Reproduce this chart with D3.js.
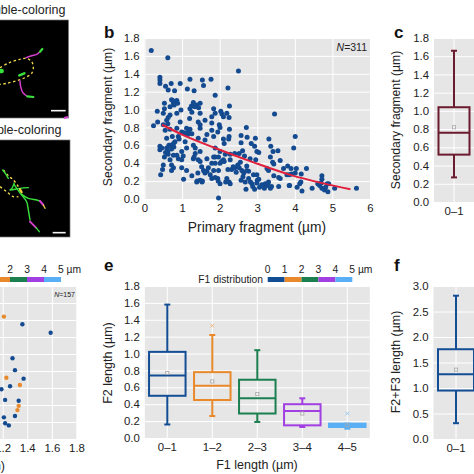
<!DOCTYPE html>
<html><head><meta charset="utf-8">
<script src="https://cdn.jsdelivr.net/npm/d3@7/dist/d3.min.js"></script>
<style>html,body{margin:0;padding:0;background:#fff;overflow:hidden}text{font-family:"Liberation Sans",Arial,sans-serif;fill:#222}</style>
</head><body><div id="c"></div>
<script>
const bX=[.41,.56,.71,.63,.80,.95,1.14,1.32,1.57,1.88,.53,.72,.86,.77,.83,.34,.50,.68,.53,.97,.86,.68,.63,.59,.95,.35,.24,.50,.55,1.21,1.30,1.39,1.48,1.26,1.48,1.20,1.84,1.88,1.79,1.43,1.61,1.48,1.79,1.48,1.79,.68,.86,.99,1.12,1.21,1.08,1.26,.59,.74,.81,.90,1.43,1.66,1.61,1.08,1.12,1.84,.41,.41,.59,.68,.77,.62,.53,.77,.86,.99,1.35,1.30,1.35,1.48,1.66,.68,.90,.99,1.30,1.43,1.48,1.84,.50,.48,.72,.77,.72,.43,.99,1.12,1.04,1.26,1.42,1.39,1.48,1.54,1.57,1.70,1.61,1.66,1.79,1.84,1.79,
2.22,2.26,2.03,2.06,2.19,2.10,2.25,3.46,1.99,2.01,2.26,2.71,1.95,2.25,2.24,2.10,2.12,2.57,2.73,2.57,2.84,2.95,2.93,3.31,3.36,3.55,3.42,1.88,2.01,2.15,2.28,2.40,2.52,2.61,2.99,3.04,2.66,2.81,2.96,3.35,3.61,1.88,1.97,2.10,2.28,2.01,1.88,1.97,2.22,2.32,2.40,2.48,2.55,2.72,3.41,3.44,3.81,3.70,3.26,3.30,1.88,1.95,2.01,2.19,2.25,2.28,2.59,2.72,2.77,2.64,2.57,2.68,2.77,2.86,2.70,2.90,2.99,3.04,2.99,3.06,2.93,3.21,3.30,3.26,3.19,3.35,3.44,3.57,3.61,3.79,3.85,3.57,3.85,1.97,
.18,.62,.41,.41,1.21,1.54,1.77,2.50,
4.01,3.97,3.90,4.04,4.31,4.01,4.17,3.91,3.86,4.16,4.13,4.06,4.19,4.46,4.72,4.72,4.61,4.66,4.72,4.79,4.86,4.90,4.88,5.06,5.64,
.75,.79,.88,1.25,1.34,1.44,1.17,1.05,1.15,.65,.72,.78,.46,.56,.63,1.32,1.40,1.53,1.60,1.75,2.12,2.36,2.44,2.52,2.82,2.88,3.00,3.12,3.28,3.38,4.70,4.82,.62,.92,1.03,1.52,1.96,2.05,2.16,2.62];
const bY=[1.29,1.26,1.29,1.22,1.21,1.29,1.23,1.21,1.27,1.16,1.07,1.11,1.10,1.07,1.09,.98,.96,1.03,1.01,.995,.96,.94,.91,.88,.86,.86,.82,.83,.77,1.01,1.08,1.05,1.07,.97,.96,.90,1.01,.96,.92,.86,.88,.83,.85,.79,.77,.78,.79,.75,.79,.78,.73,.73,.68,.70,.64,.70,.68,.72,.66,.64,.57,.70,.59,.55,.57,.60,.62,.53,.47,.49,.49,.53,.57,.60,.51,.53,.45,.44,.45,.44,.45,.44,.42,.47,.38,.33,.38,.35,.32,.27,.35,.32,.22,.26,.29,.19,.21,.20,.32,.35,.29,.31,.23,.32,.40,
1.24,1.04,.98,.95,.96,.92,.91,.95,.83,.80,.78,.80,.75,.70,.67,.67,.62,.71,.69,.63,.62,.68,.59,.67,.59,.54,.53,.57,.53,.50,.50,.51,.51,.54,.53,.52,.48,.45,.44,.47,.43,.47,.47,.44,.44,.40,.40,.32,.33,.33,.35,.38,.41,.37,.41,.39,.37,.34,.34,.32,.24,.23,.17,.23,.19,.17,.32,.32,.31,.29,.21,.19,.23,.17,.11,.27,.27,.22,.18,.13,.11,.17,.19,.15,.12,.12,.26,.24,.23,.27,.27,.14,.15,.01,
1.66,1.58,1.36,1.33,1.34,1.33,1.34,1.43,
.70,.57,.34,.34,.34,.29,.28,.28,.15,.19,.17,.13,.09,.12,.26,.22,.17,.15,.12,.10,.17,.17,.08,.12,.12,
1.10,1.05,1.07,1.04,1.03,1.02,.76,.74,.72,.60,.56,.58,.57,.52,.50,.47,.20,.19,.31,.27,.42,.36,.30,.35,.19,.14,.21,.16,.17,.14,.18,.13,.84,.67,.48,.36,.20,.42,.19,.25];
const fitX=[.47,1,1.88,2.9,3.88,4.7,5.48];
const fitY=[.83,.72,.57,.41,.27,.18,.11];
const dBlueX=[1.36,1.59,1.28,1.30,1.37,1.26,1.19,1.22,1.33,1.30,1.21,1.22,1.25];
const dBlueY=[1.35,1.25,.95,.81,.71,.62,.585,.46,.45,.27,.255,.185,.16];
const dOrangeX=[1.21,1.23,1.34,1.33,1.32];
const dOrangeY=[1.44,.72,.635,.39,.34];
const eCats=["0–1","1–2","2–3","3–4","4–5"];
const eMin=[.16,.26,.19,.13,.11];
const eQ1=[.50,.45,.29,.15,.13];
const eMed=[.74,.62,.47,.32,.155];
const eQ3=[1.02,.78,.69,.40,.17];
const eMax=[1.58,1.22,1.04,.47,.17];
const eMean=[.77,.67,.52,.29,.15];
const eOut=[null,1.33,null,null,.29];
const cBox=[.27,.52,.76,1.04,1.66,.82];
const fBox=[.31,.95,1.27,1.76,2.81,1.36];
const distLabels=["0","1","2","3","4","5 µm"];
const yTicks18=[0,.2,.4,.6,.8,1,1.2,1.4,1.6,1.8];
const yTicks3=[0,.5,1,1.5,2,2.5,3];
const xTicksB=[0,1,2,3,4,5,6];
const xTicksD=[0,.2,.4,.6,.8,1,1.2,1.4,1.6,1.8];
const palette=["#134e95","#e8892c","#1b7f50","#a23fe3","#58aff5"];
const maroon="#6a1b2e",pointBlue="#134a90";

const svg=d3.select("#c").append("svg").attr("width",474).attr("height",474).style("display","block");
const fmt=d=>d.toFixed(1);

function frame(x,y,xTicks,yTickVals,xFmt,fs=11.4){
  const [x0,x1]=x.range(),[y0,y1]=y.range();
  svg.append("rect").attr("x",x0).attr("y",y1).attr("width",x1-x0).attr("height",y0-y1).attr("fill","#e6e6e6");
  const gy=svg.append("g").attr("transform",`translate(${x0},0)`).call(d3.axisLeft(y).tickValues(yTickVals).tickFormat(fmt).tickSize(-(x1-x0)).tickPadding(5));
  const gx=svg.append("g").attr("transform",`translate(0,${y0})`).call(
    (x.bandwidth?d3.axisBottom(x):d3.axisBottom(x).tickValues(xTicks).tickFormat(xFmt)).tickSize(-(y0-y1)).tickPadding(5));
  [gx,gy].forEach(g=>{g.select(".domain").remove();g.selectAll("line").attr("stroke","#fff").attr("stroke-width",1);g.selectAll("text").attr("font-size",fs).style("fill","#222");g.attr("font-family",null)});
}
function vlabel(x,y,t,fs=12.2){svg.append("text").attr("transform",`translate(${x},${y}) rotate(-90)`).attr("text-anchor","middle").attr("dominant-baseline","central").attr("font-size",fs).text(t)}
function hlabel(x,y,t,fs=12.5){svg.append("text").attr("x",x).attr("y",y).attr("text-anchor","middle").attr("dominant-baseline","central").attr("font-size",fs).text(t)}
function panel(x,y,t){svg.append("text").attr("x",x).attr("y",y).attr("font-size",17).attr("font-weight","bold").style("fill","#111").text(t)}
function box(g,cx,w,y,v,col,out){
  const [mn,q1,md,q3,mx,mean]=v;
  g.append("line").attr("x1",cx).attr("x2",cx).attr("y1",y(mx)).attr("y2",y(q3)).attr("stroke",col).attr("stroke-width",2);
  g.append("line").attr("x1",cx).attr("x2",cx).attr("y1",y(q1)).attr("y2",y(mn)).attr("stroke",col).attr("stroke-width",2);
  [mn,mx].forEach(c=>g.append("line").attr("x1",cx-3).attr("x2",cx+3).attr("y1",y(c)).attr("y2",y(c)).attr("stroke",col).attr("stroke-width",2));
  g.append("rect").attr("x",cx-w/2).attr("y",y(q3)).attr("width",w).attr("height",y(q1)-y(q3)).attr("fill","none").attr("stroke",col).attr("stroke-width",2);
  g.append("line").attr("x1",cx-w/2).attr("x2",cx+w/2).attr("y1",y(md)).attr("y2",y(md)).attr("stroke",col).attr("stroke-width",2);
  g.append("rect").attr("x",cx-1.6).attr("y",y(mean)-1.6).attr("width",3.2).attr("height",3.2).attr("fill","none").attr("stroke","#a8a8a8").attr("stroke-width",.8);
  if(out!=null){const o=y(out);g.append("path").attr("d",`M${cx-1.8},${o-1.8}L${cx+1.8},${o+1.8}M${cx-1.8},${o+1.8}L${cx+1.8},${o-1.8}`).attr("stroke",col).attr("stroke-width",.8).attr("opacity",.7)}
}
function legend(xs,yBar){
  const n=palette.length;
  for(let i=0;i<n;i++)svg.append("rect").attr("x",xs(i)).attr("y",yBar).attr("width",xs(i+1)-xs(i)).attr("height",5).attr("fill",palette[i]);
  distLabels.forEach((t,i)=>svg.append("text").attr("x",xs(i)).attr("y",yBar-8).attr("font-size",10.3).attr("dominant-baseline","central").attr("text-anchor",i==5?"start":"middle").attr("dx",i==5?-3:0).text(t));
}

/* micrographs */
const imgU=d3.scaleLinear().domain([0,225]).range([0,75]);
function micro(y0,w,h,oy,strokes){
  svg.append("rect").attr("x",-1).attr("y",y0).attr("width",w+1).attr("height",h).attr("fill","#000").attr("stroke","#777").attr("stroke-width",.7);
  const yy=d3.scaleLinear().domain([0,225]).range([oy,oy+75]);
  const l=d3.line().x(d=>imgU(d[0])).y(d=>yy(d[1])).curve(d3.curveCatmullRom);
  strokes.forEach(s=>svg.append("path").attr("d",l(s.p)).attr("fill","none").attr("stroke",s.c).attr("stroke-width",s.w||2).attr("stroke-linecap",s.cap||"round").attr("stroke-dasharray",s.d||null));
}
const Y="#f2d84a",G="#39e03c",M="#d63fd0";
micro(20,68.5,98,15,[
 {p:[[0,158],[30,142],[60,133],[80,130],[95,140],[100,155],[95,175],[75,188],[50,197],[20,205],[0,208]],c:Y,w:1.3,d:"2.5 2.5",cap:"butt"},
 {p:[[78,128],[95,122],[110,118],[120,110]],c:M,w:1.5},
 {p:[[120,110],[127,102]],c:G,w:2.2},
 {p:[[-2,168],[5,168]],c:G,w:4.5},
 {p:[[58,181],[73,175]],c:G,w:2.6},
 {p:[[60,198],[62,215],[68,232],[80,243]],c:M,w:1.5},
 {p:[[82,244],[100,246]],c:G,w:2.2},
 {p:[[153,287],[197,287]],c:"#f4f4f4",w:1.6,cap:"butt"}
]);
svg.append("path").attr("d",d3.line()([[64,118],[68,117]])).attr("stroke",M).attr("stroke-width",2).attr("fill","none");
micro(140,70,97,135,[
 {p:[[10,105],[25,122],[40,135],[55,155],[62,170]],c:Y,w:1.4,d:"2.5 2.5",cap:"butt"},
 {p:[[0,155],[20,170],[40,185],[55,185]],c:Y,w:1.4,d:"2.5 2.5",cap:"butt"},
 {p:[[8,105],[18,118],[25,130]],c:G,w:1.4},
 {p:[[42,145],[36,160],[30,165],[60,160],[85,158]],c:G,w:1.4},
 {p:[[42,148],[55,167],[65,180],[80,200],[85,225],[90,255]],c:G,w:1.4},
 {p:[[65,178],[85,190],[110,195],[120,198]],c:G,w:1.4},
 {p:[[120,198],[130,210]],c:M,w:2},
 {p:[[130,210],[135,220]],c:Y,w:1.3},
 {p:[[90,260],[108,278]],c:M,w:2},
 {p:[[108,278],[118,290]],c:G,w:1.4},
 {p:[[60,163],[65,172]],c:"#f5d040",w:2.2},
 {p:[[158,293],[197,293]],c:"#f4f4f4",w:1.6,cap:"butt"}
]);
svg.append("text").attr("x",65.5).attr("y",10).attr("text-anchor","end").attr("font-size",12.5).attr("dominant-baseline","central").text("Double-coloring");
svg.append("text").attr("x",61.5).attr("y",130).attr("text-anchor","end").attr("font-size",12.5).attr("dominant-baseline","central").text("Triple-coloring");

/* b */
{const x=d3.scaleLinear().domain([0,6]).range([144.5,370]),y=d3.scaleLinear().domain([0,1.8]).range([199,38]);
 frame(x,y,xTicksB,yTicks18,d3.format("d"));
 svg.append("g").selectAll("circle").data(d3.range(bX.length)).join("circle").attr("cx",i=>x(bX[i])).attr("cy",i=>y(bY[i])).attr("r",2.5).attr("fill",pointBlue);
 svg.append("path").attr("d",d3.line().x((d,i)=>x(fitX[i])).y((d,i)=>y(fitY[i])).curve(d3.curveMonotoneX)(fitX)).attr("fill","none").attr("stroke","#e0203c").attr("stroke-width",2);
 const n=svg.append("text").attr("x",367).attr("y",47).attr("text-anchor","end").attr("font-size",10.5).attr("dominant-baseline","central");
 n.append("tspan").attr("font-style","italic").text("N");n.append("tspan").text("=311");
 vlabel(108,117,"Secondary fragment (µm)");hlabel(257,227,"Primary fragment (µm)",13.8);panel(104,38,"b");
}
/* c */
{const x=d3.scaleBand().domain(["0–1"]).range([434,474]),y=d3.scaleLinear().domain([0,1.8]).range([202,38]);
 frame(x,y,null,yTicks18);
 box(svg.append("g"),x("0–1")+x.bandwidth()/2,31,y,cBox,maroon);
 vlabel(396,120,"Secondary fragment (µm)");panel(394,38,"c");
}
/* d */
{const x=d3.scaleLinear().domain([0,1.8]).range([-145,76.5]),y=d3.scaleLinear().domain([0,1.8]).range([439,286]);
 frame(x,y,xTicksD,yTicks18,fmt);
 svg.append("g").selectAll("circle").data(d3.range(dBlueX.length)).join("circle").attr("cx",i=>x(dBlueX[i])).attr("cy",i=>y(dBlueY[i])).attr("r",2.2).attr("fill",pointBlue);
 svg.append("g").selectAll("circle").data(d3.range(dOrangeX.length)).join("circle").attr("cx",i=>x(dOrangeX[i])).attr("cy",i=>y(dOrangeY[i])).attr("r",2.2).attr("fill",palette[1]);
 const n=svg.append("text").attr("x",75).attr("y",294).attr("text-anchor","end").attr("font-size",7).attr("dominant-baseline","central");
 n.append("tspan").attr("font-style","italic").text("N");n.append("tspan").text("=157");
 svg.append("text").attr("x",5).attr("y",466).attr("text-anchor","end").attr("font-size",12.5).attr("dominant-baseline","central").text("F2 length (µm)");
 legend(d3.scaleLinear().domain([0,5]).range([-24,61]),277);
}
/* e */
{const x=d3.scaleBand().domain(eCats).range([144.8,369.8]),y=d3.scaleLinear().domain([0,1.8]).range([438,286]);
 frame(x,y,null,yTicks18);
 eCats.forEach((c,i)=>box(svg.append("g"),x(c)+x.bandwidth()/2,36.5,y,[eMin[i],eQ1[i],eMed[i],eQ3[i],eMax[i],eMean[i]],palette[i],eOut[i]));
 vlabel(108,363,"F2 length (µm)",12.5);hlabel(257,465,"F1 length (µm)");panel(104,271,"e");
 legend(d3.scaleLinear().domain([0,5]).range([267.7,352.3]),277);
 svg.append("text").attr("x",263).attr("y",279.5).attr("text-anchor","end").attr("font-size",10.3).attr("dominant-baseline","central").text("F1 distribution");
}
/* f */
{const x=d3.scaleBand().domain(["0–1"]).range([433.5,478.5]),y=d3.scaleLinear().domain([0,3]).range([439,286]);
 frame(x,y,null,yTicks3);
 box(svg.append("g"),x("0–1")+x.bandwidth()/2,36,y,fBox,palette[0]);
 vlabel(396,362,"F2+F3 length (µm)",12.4);panel(394,271,"f");
}
</script></body></html>
